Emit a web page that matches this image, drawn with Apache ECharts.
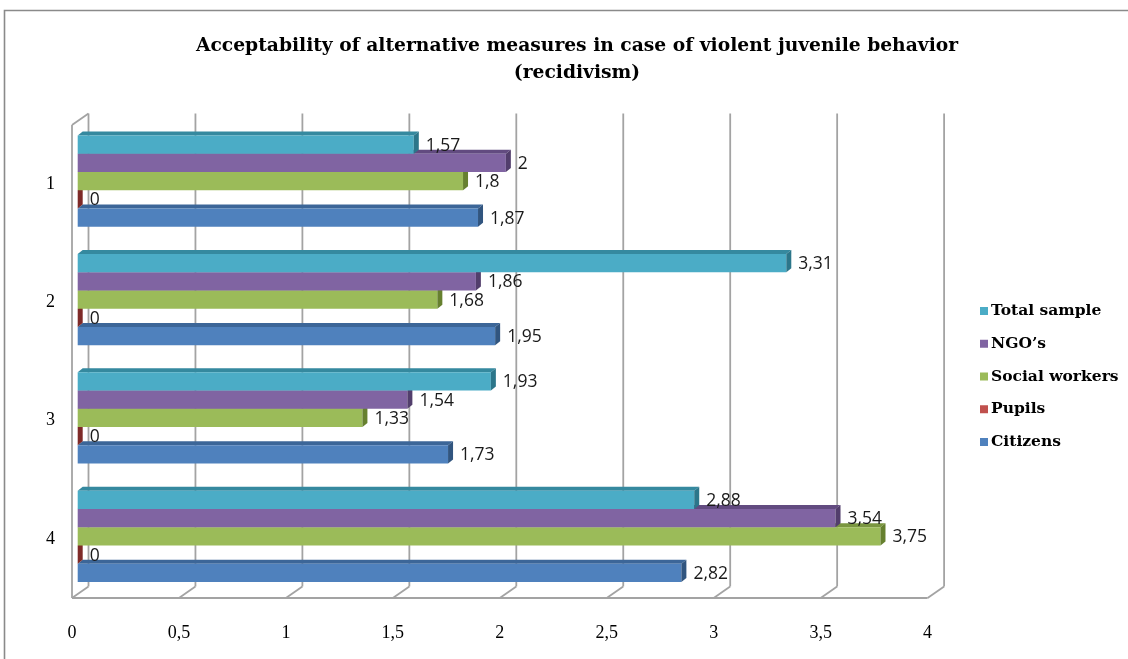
<!DOCTYPE html>
<html>
<head>
<meta charset="utf-8">
<title>Acceptability of alternative measures</title>
<script src="https://cdn.jsdelivr.net/npm/echarts@6/dist/echarts.min.js"></script>
<style>
  html, body { margin: 0; padding: 0; background: #ffffff; }
  #chart { width: 1128px; height: 659px; }
</style>
</head>
<body>
<div id="chart"></div>
<script>
// ---- data ----
const categories = ['1', '2', '3', '4'];
const citizens = [1.87, 1.95, 1.73, 2.82];
const pupils = [0, 0, 0, 0];
const socialWorkers = [1.8, 1.68, 1.33, 3.75];
const ngos = [2, 1.86, 1.54, 3.54];
const totalSample = [1.57, 3.31, 1.93, 2.88];
const xTickValues = [0, 0.5, 1, 1.5, 2, 2.5, 3, 3.5, 4];
const xTickLabels = ['0', '0,5', '1', '1,5', '2', '2,5', '3', '3,5', '4'];

// series listed bottom-to-top inside each category group
const seriesNames = ['Citizens', 'Pupils', 'Social workers', 'NGO\u2019s', 'Total sample'];
const seriesValues = [citizens, pupils, socialWorkers, ngos, totalSample];
const legendOrder = ['Total sample', 'NGO\u2019s', 'Social workers', 'Pupils', 'Citizens'];

// ---- styling ----
const faceColors = ['#4f81bd', '#c0504d', '#9bbb59', '#8064a2', '#4bacc6'];
const topColors = ['#3c6698', '#9a3431', '#7a9640', '#624b80', '#35899f'];
const sideColors = ['#31557f', '#7e2a28', '#66802f', '#523e6c', '#2c768a'];
const BAR_FILL = 0.77;         // share of a category band used by the bar group
const BAR_DEPTH = [5, -4];     // receding direction of each bar
const WALL_DEPTH = [16.5, -11.5];
const GRID_COLOR = '#a3a3a3';

function fmt(v) { return String(v).replace('.', ','); }

function barRenderer(slot) {
  return function (params, api) {
    const v = api.value(0);
    const cat = api.value(1);
    const p0 = api.coord([0, cat]);
    const p1 = api.coord([v, cat]);
    const band = api.size([0, 1])[1];
    const h = band * BAR_FILL / seriesNames.length;
    const yTop = p0[1] + h * seriesNames.length / 2 - (slot + 1) * h;
    const x0 = p0[0], x1 = p1[0];
    const dx = BAR_DEPTH[0], dy = BAR_DEPTH[1];
    const children = [];
    if (x1 > x0) {
      children.push({
        type: 'polygon',
        shape: { points: [[x0, yTop], [x1, yTop], [x1 + dx, yTop + dy], [x0 + dx, yTop + dy]] },
        style: { fill: topColors[slot] }
      });
      children.push({
        type: 'rect',
        shape: { x: x0, y: yTop, width: x1 - x0, height: h },
        style: { fill: faceColors[slot] }
      });
    }
    children.push({
      type: 'polygon',
      shape: { points: [[x1, yTop], [x1 + dx, yTop + dy], [x1 + dx, yTop + h + dy], [x1, yTop + h]] },
      style: { fill: sideColors[slot] }
    });
    children.push({
      type: 'text',
      z2: 50,
      style: {
        text: fmt(v), x: x1 + 12, y: yTop + h / 2 + 1,
        align: 'left', verticalAlign: 'middle',
        fill: '#1a1a1a', font: '17.5px "Open Sans"'
      }
    });
    return { type: 'group', children: children };
  };
}

// back wall, floor and side wall of the 3D frame, built on the front-plane grid
function frameRenderer(params, api) {
  const cs = params.coordSys;
  const topF = cs.y, botF = cs.y + cs.height;
  const dx = WALL_DEPTH[0], dy = WALL_DEPTH[1];
  const lineStyle = { stroke: GRID_COLOR, lineWidth: 1.8, fill: null };
  const children = [];
  xTickValues.forEach(function (t) {
    const x = api.coord([t, 0])[0];
    children.push({ type: 'line', shape: { x1: x + dx, y1: topF + dy, x2: x + dx, y2: botF + dy }, style: lineStyle });
    children.push({ type: 'line', shape: { x1: x + dx, y1: botF + dy, x2: x, y2: botF }, style: lineStyle });
  });
  const xa = api.coord([xTickValues[0], 0])[0];
  const xb = api.coord([xTickValues[xTickValues.length - 1], 0])[0];
  children.push({ type: 'line', shape: { x1: xa, y1: botF, x2: xb, y2: botF }, style: lineStyle });
  children.push({ type: 'line', shape: { x1: xa, y1: topF, x2: xa, y2: botF }, style: lineStyle });
  children.push({ type: 'line', shape: { x1: xa, y1: topF, x2: xa + dx, y2: topF + dy }, style: lineStyle });
  return { type: 'group', children: children };
}

const chart = echarts.init(document.getElementById('chart'), null, { renderer: 'canvas' });

const barSeries = seriesNames.map(function (name, i) {
  return {
    type: 'custom',
    name: name,
    xAxisIndex: 0,
    yAxisIndex: 0,
    z: 3,
    itemStyle: { color: faceColors[i] },
    encode: { x: 0, y: 1 },
    renderItem: barRenderer(i),
    data: seriesValues[i].map(function (v, k) { return [v, k]; })
  };
});

chart.setOption({
  animation: false,
  backgroundColor: '#ffffff',
  graphic: [{
    type: 'rect',
    shape: { x: 4.5, y: 10.5, width: 1140, height: 680 },
    style: { fill: null, stroke: '#8a8a8a', lineWidth: 1.6 },
    silent: true
  }],
  title: {
    text: 'Acceptability of alternative measures in case of violent juvenile behavior\n(recidivism)',
    left: 572,
    textAlign: 'center',
    top: 28,
    textStyle: {
      fontFamily: '"DejaVu Serif"',
      fontWeight: 'bold',
      fontSize: 18.7,
      lineHeight: 27,
      color: '#000000'
    }
  },
  legend: {
    orient: 'vertical',
    left: 975,
    top: 298,
    itemWidth: 8,
    itemHeight: 8,
    itemGap: 16.75,
    icon: 'rect',
    data: legendOrder,
    textStyle: {
      fontFamily: '"DejaVu Serif"',
      fontWeight: 'bold',
      fontSize: 15.5,
      lineHeight: 16,
      color: '#000000',
      padding: [0, 0, 0, -2]
    }
  },
  grid: [
    // plane the bars stand in
    { left: 77.7, right: 194, top: 122, bottom: 63.5 },
    // front plane carrying the axis labels and the frame
    { left: 72, right: 200.4, top: 125, bottom: 61 }
  ],
  xAxis: [
    { gridIndex: 0, type: 'value', min: 0, max: 4, interval: 0.5, show: false },
    {
      gridIndex: 1, type: 'value', min: 0, max: 4, interval: 0.5,
      axisLine: { show: false }, axisTick: { show: false }, splitLine: { show: false },
      axisLabel: {
        margin: 26,
        color: '#000000',
        fontFamily: '"Liberation Serif"',
        fontSize: 18,
        formatter: function (v) { return xTickLabels[xTickValues.indexOf(v)]; }
      }
    }
  ],
  yAxis: [
    { gridIndex: 0, type: 'category', inverse: true, data: categories, show: false },
    {
      gridIndex: 1, type: 'category', inverse: true, data: categories,
      axisLine: { show: false }, axisTick: { show: false }, splitLine: { show: false },
      axisLabel: {
        margin: 17,
        color: '#000000',
        fontFamily: '"Liberation Serif"',
        fontSize: 18
      }
    }
  ],
  series: [{
    type: 'custom',
    name: 'frame',
    xAxisIndex: 1,
    yAxisIndex: 1,
    z: 1,
    silent: true,
    renderItem: frameRenderer,
    data: [[0, 0]]
  }].concat(barSeries)
});
</script>
</body>
</html>
